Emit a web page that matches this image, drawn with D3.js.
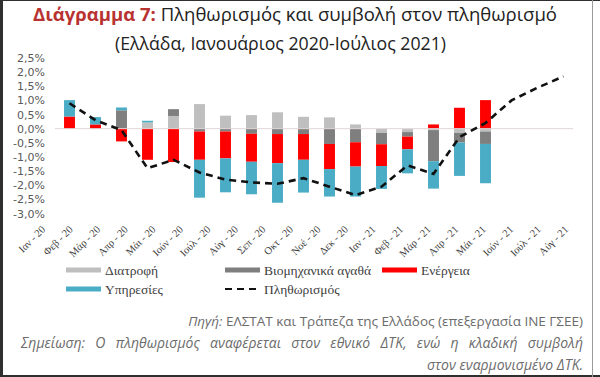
<!DOCTYPE html>
<html>
<head>
<meta charset="utf-8">
<script src="https://cdn.jsdelivr.net/npm/d3@7"></script>
<style>
  body { margin: 0; background: #fff; }
  svg { display: block; }
</style>
</head>
<body>
<svg id="chart" width="600" height="377"></svg>
<script>
// Monthly categories (x axis)
const months = ['Ιαν - 20', 'Φεβ - 20', 'Μάρ - 20', 'Απρ - 20', 'Μάι - 20', 'Ιούν - 20',
  'Ιούλ - 20', 'Αύγ - 20', 'Σεπ - 20', 'Οκτ - 20', 'Νοέ - 20', 'Δεκ - 20', 'Ιαν - 21',
  'Φεβ - 21', 'Μάρ - 21', 'Απρ - 21', 'Μάι - 21', 'Ιούν - 21', 'Ιούλ - 21', 'Αύγ - 21'];

// Contributions by sector (percentage points)
const food = [0, 0, 0, 0.22, 0.45, 0.87, 0.46, 0.48, 0.58, 0.42, 0.40, 0.15, -0.15, -0.12, -0.05, -0.15, -0.10, 0, 0, 0];
const industrial = [0, 0, 0.65, 0, 0.24, -0.10, -0.10, -0.18, -0.19, -0.19, -0.54, -0.48, -0.40, -0.16, -1.10, -0.34, -0.44, 0, 0, 0];
const energy = [0.43, 0.15, -0.45, -1.10, -1.18, -1.00, -0.95, -0.99, -1.03, -0.91, -0.89, -0.86, -0.77, -0.45, 0.15, 0.74, 1.01, 0, 0, 0];
const services = [0.58, 0.26, 0.10, 0.06, 0, -1.34, -1.20, -1.15, -1.40, -1.16, -0.97, -1.06, -0.81, -0.85, -0.97, -1.18, -1.39, 0, 0, 0];

// Headline inflation (%)
const inflation = [0.9, 0.3, -0.05, -1.4, -1.1, -1.55, -1.8, -1.9, -1.95, -1.75, -2.05, -2.35,
  -2.05, -1.3, -1.6, -0.3, 0.2, 1.0, 1.45, 1.85];

// Y axis ticks
const yTicks = [2.5, 2.0, 1.5, 1.0, 0.5, 0.0, -0.5, -1.0, -1.5, -2.0, -2.5, -3.0];

const seriesKeys = ['food', 'industrial', 'energy', 'services'];
const seriesNames = {
  food: 'Διατροφή',
  industrial: 'Βιομηχανικά αγαθά',
  energy: 'Ενέργεια',
  services: 'Υπηρεσίες'
};
const colors = {
  food: '#bfbfbf',
  industrial: '#7f7f7f',
  energy: '#ff0000',
  services: '#4bacc6'
};

const table = months.map((m, i) => ({
  month: m,
  food: food[i],
  industrial: industrial[i],
  energy: energy[i],
  services: services[i]
}));

const svg = d3.select('#chart');

// Scales
const x = d3.scaleBand()
  .domain(months)
  .range([56.5, 576.5])
  .paddingInner(0.58)
  .paddingOuter(0.29);

// The rotated month labels sit on a slightly wider spacing than the bars
const xLabel = d3.scalePoint()
  .domain(months)
  .range([46, 569]);

const y = d3.scaleLinear()
  .domain([-3, 2.5])
  .range([213.5, 58]);

const cx = m => x(m) + x.bandwidth() / 2;

// Title
const title1 = svg.append('text')
  .attr('x', 33)
  .attr('y', 21)
  .attr('textLength', 524)
  .attr('lengthAdjust', 'spacingAndGlyphs')
  .style('font-family', '"Open Sans", sans-serif')
  .style('font-size', '17.5px')
  .style('fill', '#222');
title1.append('tspan')
  .style('font-weight', 'bold')
  .style('fill', '#b83232')
  .text('Διάγραμμα 7:');
title1.append('tspan')
  .text(' Πληθωρισμός και συμβολή στον πληθωρισμό');

svg.append('text')
  .attr('x', 115)
  .attr('y', 50)
  .attr('textLength', 331)
  .attr('lengthAdjust', 'spacingAndGlyphs')
  .style('font-family', '"Open Sans", sans-serif')
  .style('font-size', '17.5px')
  .style('fill', '#222')
  .text('(Ελλάδα, Ιανουάριος 2020-Ιούλιος 2021)');

// Y axis labels
const yAxis = d3.axisLeft(y)
  .tickValues(yTicks)
  .tickSize(0)
  .tickPadding(0)
  .tickFormat(d => d.toFixed(1).replace('.', ',') + '%');

const yAxisG = svg.append('g')
  .attr('transform', 'translate(45,0)')
  .call(yAxis);
yAxisG.select('.domain').remove();
yAxisG.selectAll('text')
  .style('font-family', '"DejaVu Sans", sans-serif')
  .style('font-size', '11px')
  .style('fill', '#595959');

// Stacked bars (positives up, negatives down)
const stacked = d3.stack()
  .keys(seriesKeys)
  .offset(d3.stackOffsetDiverging)(table);

svg.append('g')
  .attr('class', 'bars')
  .selectAll('g')
  .data(stacked)
  .join('g')
  .style('fill', d => colors[d.key])
  .selectAll('rect')
  .data(d => d)
  .join('rect')
  .attr('x', d => x(d.data.month))
  .attr('width', x.bandwidth())
  .attr('y', d => y(Math.max(d[0], d[1])))
  .attr('height', d => Math.abs(y(d[0]) - y(d[1])));

// Zero line
svg.append('line')
  .attr('x1', 55)
  .attr('x2', 573)
  .attr('y1', y(0))
  .attr('y2', y(0))
  .style('stroke', '#e0d6d6')
  .style('stroke-width', 1);

// Inflation line
const line = d3.line()
  .x((d, i) => cx(months[i]))
  .y(d => y(d));

svg.append('path')
  .datum(inflation)
  .attr('d', line)
  .style('fill', 'none')
  .style('stroke', '#111')
  .style('stroke-width', 2.6)
  .style('stroke-dasharray', '7,5');

// X axis labels (rotated)
svg.append('g')
  .attr('class', 'x-labels')
  .selectAll('text')
  .data(months)
  .join('text')
  .attr('transform', m => `translate(${xLabel(m)},230) rotate(-45)`)
  .attr('text-anchor', 'end')
  .style('font-family', '"Liberation Serif", serif')
  .style('font-size', '10.5px')
  .style('fill', '#404040')
  .text(m => m);

// Legend
const legendItems = [
  { key: 'food', x: 66, y: 270 },
  { key: 'industrial', x: 225, y: 270 },
  { key: 'energy', x: 382, y: 270 },
  { key: 'services', x: 66, y: 289 }
];

const legend = svg.append('g').attr('class', 'legend');

legendItems.forEach(item => {
  legend.append('rect')
    .attr('x', item.x)
    .attr('y', item.y - 2.5)
    .attr('width', 35)
    .attr('height', 5)
    .style('fill', colors[item.key]);
  legend.append('text')
    .attr('x', item.x + 39)
    .attr('y', item.y + 4.5)
    .style('font-family', '"Liberation Serif", serif')
    .style('font-size', '13.5px')
    .style('fill', '#404040')
    .text(seriesNames[item.key]);
});

legend.append('line')
  .attr('x1', 225)
  .attr('x2', 260)
  .attr('y1', 289)
  .attr('y2', 289)
  .style('stroke', '#111')
  .style('stroke-width', 2)
  .style('stroke-dasharray', '7,5');
legend.append('text')
  .attr('x', 264)
  .attr('y', 293.5)
  .style('font-family', '"Liberation Serif", serif')
  .style('font-size', '13.5px')
  .style('fill', '#404040')
  .text('Πληθωρισμός');

// Source and note (note is justified: second line fills the width)
const noteStyle = sel => sel
  .attr('text-anchor', 'end')
  .style('font-family', '"Open Sans", sans-serif')
  .style('font-size', '13.5px')
  .style('fill', '#6b6b6b');

const src = svg.append('text')
  .attr('x', 583)
  .attr('y', 326)
  .call(noteStyle);
src.append('tspan').style('font-style', 'italic').text('Πηγή:');
src.append('tspan').text(' ΕΛΣΤΑΤ και Τράπεζα της Ελλάδος (επεξεργασία ΙΝΕ ΓΣΕΕ)');

const noteLine = svg.append('text')
  .attr('x', 583)
  .attr('y', 348)
  .call(noteStyle)
  .style('font-size', '14px')
  .style('font-style', 'italic')
  .text('Σημείωση: Ο πληθωρισμός αναφέρεται στον εθνικό ΔΤΚ, ενώ η κλαδική συμβολή');

// Spread the words so the line runs from x = 21 to the right margin
const natural = noteLine.node().getComputedTextLength();
const gaps = noteLine.text().split(' ').length - 1;
noteLine.style('word-spacing', `${Math.max(0, (562 - natural) / gaps)}px`);

svg.append('text')
  .attr('x', 583)
  .attr('y', 370)
  .call(noteStyle)
  .style('font-size', '14px')
  .style('font-style', 'italic')
  .text('στον εναρμονισμένο ΔΤΚ.');

// Frame around the picture
svg.append('rect').attr('x', 0).attr('y', 0).attr('width', 600).attr('height', 1).style('fill', '#2f2f2f');
svg.append('rect').attr('x', 0).attr('y', 0).attr('width', 3).attr('height', 377).style('fill', '#2f2f2f');
svg.append('rect').attr('x', 0).attr('y', 375).attr('width', 600).attr('height', 2).style('fill', '#2f2f2f');
svg.append('rect').attr('x', 592).attr('y', 0).attr('width', 1).attr('height', 377).style('fill', '#9a9a9a');
</script>
</body>
</html>
